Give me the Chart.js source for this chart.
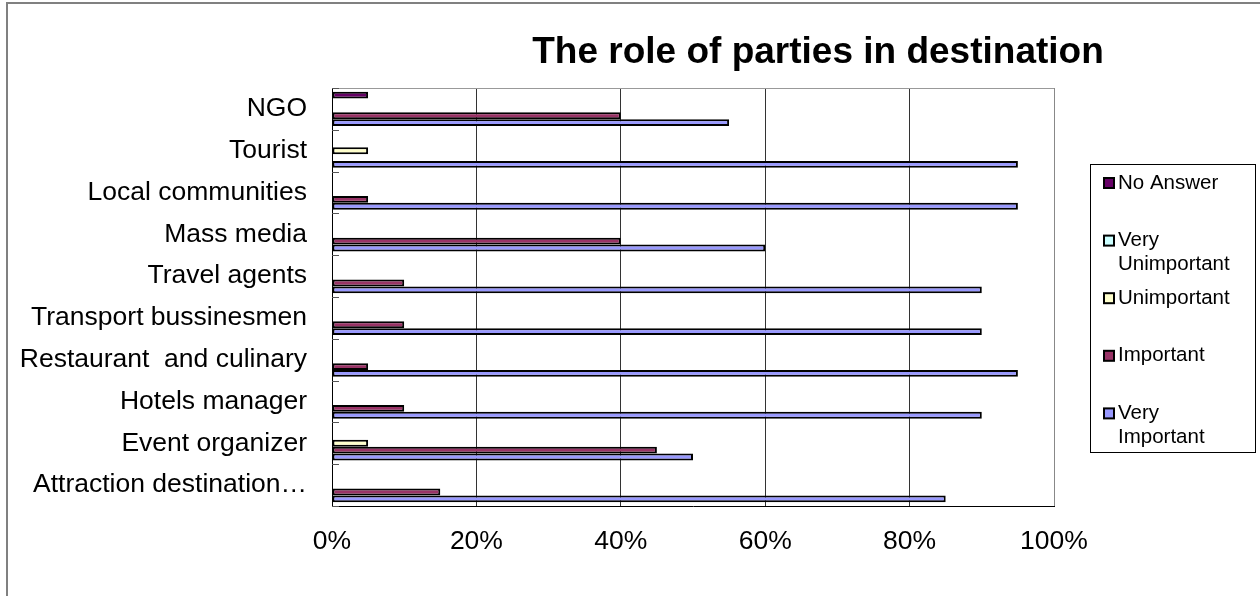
<!DOCTYPE html>
<html lang="en">
<head>
  <meta charset="UTF-8">
  <title>The role of parties in destination</title>
  <script src="https://cdn.jsdelivr.net/npm/chart.js"></script>
  <style>
    body {
      margin: 0;
      background: #ffffff;
      overflow: hidden;
    }
    .wrap {
      position: relative;
      width: 1260px;
      height: 596px;
    }
    .frame {
      position: absolute;
      left: 6px;
      top: 2px;
      width: 1400px;
      height: 700px;
      border-left: 2px solid #808080;
      border-top: 2px solid #808080;
      pointer-events: none;
    }
    canvas {
      position: absolute;
      left: 0;
      top: 0;
    }
  </style>
</head>
<body>

  <div class="wrap">
    <canvas id="rolesChart" width="1260" height="596"></canvas>
    <div class="frame"></div>
  </div>

  <script>
    // data (percent of answers)
    const categories = [
      'NGO',
      'Tourist',
      'Local communities',
      'Mass media',
      'Travel agents',
      'Transport bussinesmen',
      'Restaurant  and culinary',
      'Hotels manager',
      'Event organizer',
      'Attraction destination\u2026'
    ];
    const seriesNames = ['No Answer', 'Very Unimportant', 'Unimportant', 'Important', 'Very Important'];
    const noAnswer        = [5, 0, 0, 0, 0, 0, 0, 0, 0, 0];
    const veryUnimportant = [0, 0, 0, 0, 0, 0, 0, 0, 0, 0];
    const unimportant     = [0, 5, 0, 0, 0, 0, 0, 0, 5, 0];
    const important       = [40, 0, 5, 40, 10, 10, 5, 10, 45, 15];
    const veryImportant   = [55, 95, 95, 60, 90, 90, 95, 90, 50, 85];
    const xTickValues = [0, 20, 40, 60, 80, 100];
    const chartTitle = 'The role of parties in destination';

    const seriesColors = ['#660066', '#CCFFFF', '#FFFFCC', '#993366', '#9999FF'];
    const seriesData = [noAnswer, veryUnimportant, unimportant, important, veryImportant];

    const FONT = "'Liberation Sans', Arial, sans-serif";

    // title, plot frame, inside ticks and the wrapped legend
    const decorPlugin = {
      id: 'decor',
      beforeDatasetsDraw(chart) {
        const ctx = chart.ctx;
        const area = chart.chartArea;
        const y = chart.scales.y;
        ctx.save();
        ctx.strokeStyle = '#999999';
        ctx.lineWidth = 1;
        ctx.beginPath();
        ctx.moveTo(area.left, area.top + 0.5);
        ctx.lineTo(area.right, area.top + 0.5);
        ctx.stroke();

        ctx.strokeStyle = '#555555';
        for (let i = 0; i <= categories.length; i++) {
          const py = Math.round(y.getPixelForValue(i - 0.5)) + 0.5;
          ctx.beginPath();
          ctx.moveTo(area.left, py);
          ctx.lineTo(area.left + 7, py);
          ctx.stroke();
        }
        ctx.restore();
      },
      afterDraw(chart) {
        const ctx = chart.ctx;
        ctx.save();

        ctx.fillStyle = '#000';
        ctx.font = 'bold 37px ' + FONT;
        ctx.textAlign = 'center';
        ctx.textBaseline = 'alphabetic';
        ctx.fillText(chartTitle, 818, 63);

        // legend box
        ctx.strokeStyle = '#000';
        ctx.lineWidth = 1;
        ctx.strokeRect(1090.5, 164.5, 165, 288);

        ctx.font = '20.5px ' + FONT;
        ctx.textAlign = 'left';
        ctx.textBaseline = 'middle';
        chart.data.datasets.forEach((ds, i) => {
          const top = 183 + i * 57.6;
          ctx.fillStyle = ds.backgroundColor;
          ctx.fillRect(1104, top - 5, 10, 10);
          ctx.lineWidth = 2;
          ctx.strokeStyle = '#000';
          ctx.strokeRect(1104, top - 5, 10, 10);

          // wrap words to the legend width
          const words = ds.label.split(' ');
          const lines = [];
          let line = '';
          words.forEach(w => {
            const test = line ? line + ' ' + w : w;
            if (ctx.measureText(test).width > 125 && line) {
              lines.push(line);
              line = w;
            } else {
              line = test;
            }
          });
          lines.push(line);
          ctx.fillStyle = '#000';
          lines.forEach((l, k) => ctx.fillText(l, 1118, top + k * 23.5));
        });
        ctx.restore();
      }
    };

    new Chart(document.getElementById('rolesChart'), {
      type: 'bar',
      data: {
        labels: categories,
        datasets: seriesNames.map((name, i) => ({
          label: name,
          data: seriesData[i],
          backgroundColor: seriesColors[i],
          borderColor: '#000000',
          borderWidth: 2,
          borderSkipped: false,
          categoryPercentage: 0.82,
          barPercentage: 1.0
        }))
      },
      options: {
        indexAxis: 'y',
        responsive: false,
        animation: false,
        devicePixelRatio: 1,
        layout: {
          padding: { left: 0, right: 206, top: 88, bottom: 0 }
        },
        plugins: {
          legend: { display: false },
          title: { display: false },
          tooltip: { enabled: false }
        },
        scales: {
          x: {
            min: 0,
            max: 100,
            afterBuildTicks(scale) {
              scale.ticks = xTickValues.map(v => ({ value: v }));
            },
            afterFit(scale) {
              scale.height = 90;
            },
            ticks: {
              padding: 20,
              color: '#000',
              font: { family: FONT, size: 26.5 },
              callback: v => v + '%'
            },
            grid: {
              drawTicks: false,
              tickLength: 0,
              lineWidth: 1,
              color: ctx => (ctx.tick && ctx.tick.value === 100) ? '#888888' : '#333333'
            },
            border: { display: true, color: '#000', width: 1 }
          },
          y: {
            afterFit(scale) {
              scale.width = 332;
            },
            ticks: {
              padding: 25,
              color: '#000',
              autoSkip: false,
              font: { family: FONT, size: 26.5 }
            },
            grid: { display: false, drawTicks: false },
            border: { display: true, color: '#000', width: 1 }
          }
        }
      },
      plugins: [decorPlugin]
    });
  </script>

</body>
</html>
